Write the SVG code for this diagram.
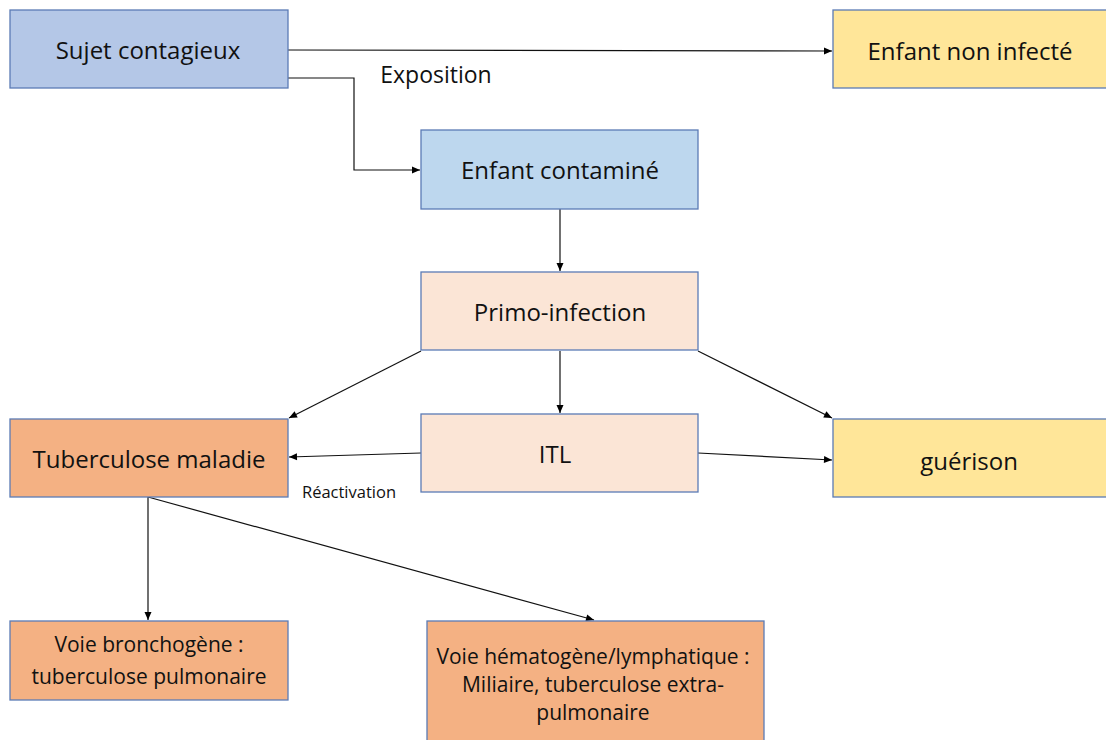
<svg xmlns="http://www.w3.org/2000/svg" width="1106" height="740" viewBox="0 0 1106 740">
<defs>
<marker id="arr" markerWidth="10" markerHeight="10" refX="9" refY="5" orient="auto" markerUnits="userSpaceOnUse">
<path d="M1,1.5 L9,5 L1,8.5 Z" fill="#000"/>
</marker>
<style>
.box{stroke:#5B7BB5;stroke-width:1.3}
.t{font-family:"Open Sans","Liberation Sans",sans-serif;font-size:24px;fill:#111;text-anchor:middle;dominant-baseline:central}
.s{font-family:"Open Sans","Liberation Sans",sans-serif;font-size:21px;fill:#111;text-anchor:middle;dominant-baseline:central}
.r{font-family:"Open Sans","Liberation Sans",sans-serif;font-size:16.5px;fill:#111;text-anchor:middle;dominant-baseline:central}
.c{fill:none;stroke:#111;stroke-width:1.2}
</style>
</defs>
<rect width="1106" height="740" fill="#fff"/>
<g id="connectors">
<path class="c" d="M288,50 L832,51" marker-end="url(#arr)"/>
<path class="c" d="M288,78 L354,78 L354,170 L420,170" marker-end="url(#arr)"/>
<path class="c" d="M560,209 L560,271" marker-end="url(#arr)"/>
<path class="c" d="M421,351 L289,418" marker-end="url(#arr)"/>
<path class="c" d="M560,351 L560,413" marker-end="url(#arr)"/>
<path class="c" d="M698,351 L832,418" marker-end="url(#arr)"/>
<path class="c" d="M421,453 L289,457" marker-end="url(#arr)"/>
<path class="c" d="M698,453 L832,460" marker-end="url(#arr)"/>
<path class="c" d="M148,497 L148,620" marker-end="url(#arr)"/>
<path class="c" d="M148,497 L594,620" marker-end="url(#arr)"/>
<text x="436" y="74" class="t" style="font-size:23px">Exposition</text>
<text x="349" y="491" class="r">Réactivation</text>
</g>
<g id="sujet">
<rect class="box" x="10" y="10" width="278" height="78" fill="#B4C7E7"/>
<text class="t" x="148" y="49">Sujet contagieux</text>
</g>
<g id="non-infecte">
<rect class="box" x="833" y="10" width="280" height="78" fill="#FFE699"/>
<text class="t" x="970" y="50">Enfant non infecté</text>
</g>
<g id="contamine">
<rect class="box" x="421" y="130" width="277" height="79" fill="#BDD7EE"/>
<text class="t" x="560" y="169">Enfant contaminé</text>
</g>
<g id="primo">
<rect class="box" x="421" y="272" width="277" height="78" fill="#FBE5D6"/>
<text class="t" x="560" y="311">Primo-infection</text>
</g>
<g id="tuberculose">
<rect class="box" x="10" y="419" width="278" height="78" fill="#F4B183"/>
<text class="t" x="149" y="458">Tuberculose maladie</text>
</g>
<g id="itl">
<rect class="box" x="421" y="414" width="277" height="78" fill="#FBE5D6"/>
<text class="t" x="555" y="453">ITL</text>
</g>
<g id="guerison">
<rect class="box" x="833" y="419" width="280" height="78" fill="#FFE699"/>
<text class="t" x="969" y="460">guérison</text>
</g>
<g id="bronchogene">
<rect class="box" x="10" y="621" width="278" height="79" fill="#F4B183"/>
<text class="s" x="149" y="644">Voie bronchogène :</text>
<text class="s" x="149" y="676">tuberculose pulmonaire</text>
</g>
<g id="hematogene">
<rect class="box" x="427" y="621" width="337" height="125" fill="#F4B183"/>
<text class="s" x="593" y="656">Voie hématogène/lymphatique :</text>
<text class="s" x="593" y="684">Miliaire, tuberculose extra-</text>
<text class="s" x="593" y="712">pulmonaire</text>
</g>
</svg>
